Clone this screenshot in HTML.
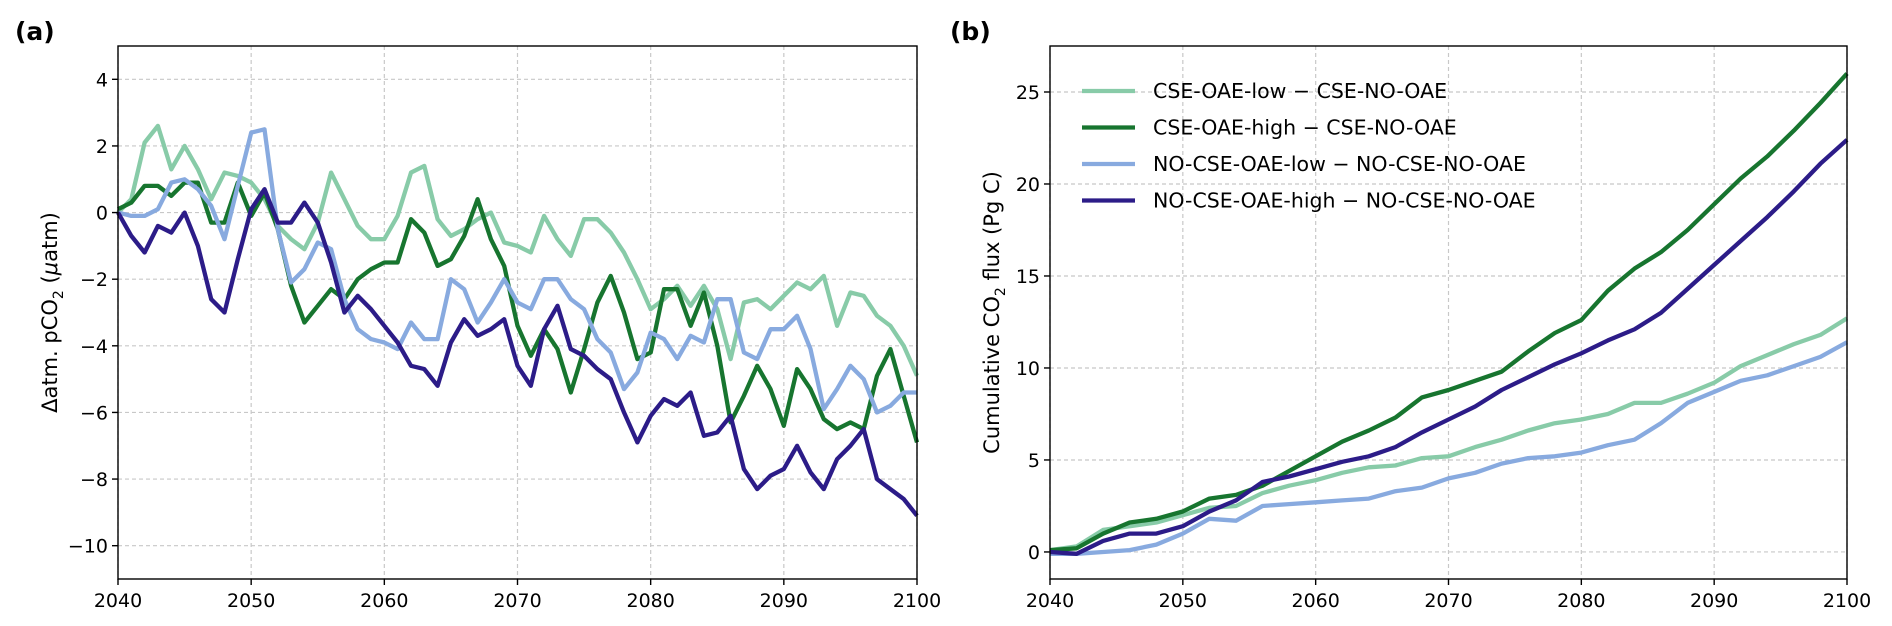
<!DOCTYPE html>
<html><head><meta charset="utf-8"><style>
body{margin:0;background:#fff;}
svg{display:block;font-family:"DejaVu Sans","Liberation Sans",sans-serif;}
</style></head><body>
<svg id="c" width="1892" height="626" viewBox="0 0 1892 626" xmlns="http://www.w3.org/2000/svg"></svg>
<script>
const years = []; for (let y = 2040; y <= 2100; y++) years.push(y);
const yearsB = []; for (let y = 2040; y <= 2100; y += 2) yearsB.push(y);
const seriesNames = ["CSE-OAE-low \u2212 CSE-NO-OAE","CSE-OAE-high \u2212 CSE-NO-OAE","NO-CSE-OAE-low \u2212 NO-CSE-NO-OAE","NO-CSE-OAE-high \u2212 NO-CSE-NO-OAE"];
const aCseLow = [0,0.4,2.1,2.6,1.3,2.0,1.3,0.4,1.2,1.1,0.9,0.4,-0.4,-0.8,-1.1,-0.3,1.2,0.4,-0.4,-0.8,-0.8,-0.1,1.2,1.4,-0.2,-0.7,-0.5,-0.2,0,-0.9,-1.0,-1.2,-0.1,-0.8,-1.3,-0.2,-0.2,-0.6,-1.2,-2.0,-2.9,-2.6,-2.2,-2.8,-2.2,-2.9,-4.4,-2.7,-2.6,-2.9,-2.5,-2.1,-2.3,-1.9,-3.4,-2.4,-2.5,-3.1,-3.4,-4.0,-4.9];
const aCseHigh = [0.1,0.3,0.8,0.8,0.5,0.9,0.9,-0.3,-0.3,0.9,-0.1,0.6,-0.5,-2.2,-3.3,-2.8,-2.3,-2.6,-2.0,-1.7,-1.5,-1.5,-0.2,-0.6,-1.6,-1.4,-0.7,0.4,-0.8,-1.6,-3.4,-4.3,-3.5,-4.1,-5.4,-4.1,-2.7,-1.9,-3.0,-4.4,-4.2,-2.3,-2.3,-3.4,-2.4,-4.0,-6.3,-5.5,-4.6,-5.3,-6.4,-4.7,-5.3,-6.2,-6.5,-6.3,-6.5,-4.9,-4.1,-5.5,-6.9];
const aNoLow = [0,-0.1,-0.1,0.1,0.9,1.0,0.7,0.2,-0.8,0.8,2.4,2.5,-0.5,-2.1,-1.7,-0.9,-1.1,-2.6,-3.5,-3.8,-3.9,-4.1,-3.3,-3.8,-3.8,-2.0,-2.3,-3.3,-2.7,-2.0,-2.7,-2.9,-2.0,-2.0,-2.6,-2.9,-3.8,-4.2,-5.3,-4.8,-3.6,-3.8,-4.4,-3.7,-3.9,-2.6,-2.6,-4.2,-4.4,-3.5,-3.5,-3.1,-4.1,-5.9,-5.3,-4.6,-5.0,-6.0,-5.8,-5.4,-5.4];
const aNoHigh = [0,-0.7,-1.2,-0.4,-0.6,0,-1.0,-2.6,-3.0,-1.4,0.1,0.7,-0.3,-0.3,0.3,-0.3,-1.5,-3.0,-2.5,-2.9,-3.4,-3.9,-4.6,-4.7,-5.2,-3.9,-3.2,-3.7,-3.5,-3.2,-4.6,-5.2,-3.5,-2.8,-4.1,-4.3,-4.7,-5.0,-6.0,-6.9,-6.1,-5.6,-5.8,-5.4,-6.7,-6.6,-6.1,-7.7,-8.3,-7.9,-7.7,-7.0,-7.8,-8.3,-7.4,-7.0,-6.5,-8.0,-8.3,-8.6,-9.1];
const bCseLow = [0.1,0.3,1.2,1.4,1.6,2.0,2.4,2.5,3.2,3.6,3.9,4.3,4.6,4.7,5.1,5.2,5.7,6.1,6.6,7.0,7.2,7.5,8.1,8.1,8.6,9.2,10.1,10.7,11.3,11.8,12.7];
const bCseHigh = [0.1,0.2,1.0,1.6,1.8,2.2,2.9,3.1,3.6,4.4,5.2,6.0,6.6,7.3,8.4,8.8,9.3,9.8,10.9,11.9,12.6,14.2,15.4,16.3,17.5,18.9,20.3,21.5,22.9,24.4,26.0];
const bNoLow = [-0.1,-0.1,0,0.1,0.4,1.0,1.8,1.7,2.5,2.6,2.7,2.8,2.9,3.3,3.5,4.0,4.3,4.8,5.1,5.2,5.4,5.8,6.1,7.0,8.1,8.7,9.3,9.6,10.1,10.6,11.4];
const bNoHigh = [0,-0.1,0.6,1.0,1.0,1.4,2.2,2.8,3.8,4.1,4.5,4.9,5.2,5.7,6.5,7.2,7.9,8.8,9.5,10.2,10.8,11.5,12.1,13.0,14.3,15.6,16.9,18.2,19.6,21.1,22.4];
const xTicks = [2040,2050,2060,2070,2080,2090,2100];
const aYTicks = [4,2,0,-2,-4,-6,-8,-10];
const bYTicks = [0,5,10,15,20,25];

const colors = ["#88cba8","#17752f","#88aadf","#2c1c88"];
const NS = "http://www.w3.org/2000/svg";
const svg = document.getElementById("c");
function mk(tag, attrs, parent){const e=document.createElementNS(NS,tag);for(const k in attrs)e.setAttribute(k,attrs[k]);(parent||svg).appendChild(e);return e;}

function panel(P){
  const g = mk("g",{});
  
  
  const sx = v => P.x0 + (v-2040)/60*(P.x1-P.x0);
  const sy = v => P.y1 - (v-P.ymin)/(P.ymax-P.ymin)*(P.y1-P.y0);
  xTicks.forEach(t=>{
    const l=mk("line",{x1:sx(t),x2:sx(t),y1:P.y0,y2:P.y1,stroke:"#c8c8c8","stroke-width":1.2,"stroke-dasharray":"4,3"},g);
    
    
  });
  P.yt.forEach(t=>{
    const l=mk("line",{x1:P.x0,x2:P.x1,y1:sy(t),y2:sy(t),stroke:"#c8c8c8","stroke-width":1.2,"stroke-dasharray":"4,3"},g);
    
    
  });
  P.series.forEach((s,i)=>{
    const d = s.map((v,j)=>(j?"L":"M")+sx(P.xs[j]).toFixed(1)+","+sy(v).toFixed(1)).join("");
    const p=mk("path",{d:d,fill:"none",stroke:colors[i],"stroke-width":4.3,"stroke-linejoin":"round"},g);
    
    
  });
  const r=mk("rect",{x:P.x0,y:P.y0,width:P.x1-P.x0,height:P.y1-P.y0,fill:"none",stroke:"#000","stroke-width":1.4},g);
  
  
  xTicks.forEach(t=>{
    mk("line",{x1:sx(t),x2:sx(t),y1:P.y1,y2:P.y1+6,stroke:"#000","stroke-width":1.4},g);
    const tx=mk("text",{x:sx(t),y:P.y1+28,"text-anchor":"middle","font-size":19},g);
    tx.textContent=t;
    
    
  });
  P.yt.forEach(t=>{
    mk("line",{x1:P.x0-6,x2:P.x0,y1:sy(t),y2:sy(t),stroke:"#000","stroke-width":1.4},g);
    const tx=mk("text",{x:P.x0-10,y:sy(t)+7,"text-anchor":"end","font-size":19},g);
    tx.textContent=t<0?"\u2212"+(-t):t;
    
    
  });
  const yl=mk("text",{transform:`translate(${P.ylx},${(P.y0+P.y1)/2}) rotate(-90)`,"text-anchor":"middle","font-size":21},g);
  yl.innerHTML=P.ylabel;
  
  
  const pl=mk("text",{x:P.lx,y:40,"font-size":25,"font-weight":"bold"},g);
  pl.textContent=P.letter;
  
  
}

panel({name:"panel-a",x0:118,x1:917,y0:46,y1:579,ymin:-11,ymax:5,yt:aYTicks,xs:years,
  series:[aCseLow,aCseHigh,aNoLow,aNoHigh],ylx:57,lx:15,letter:"(a)",
  ylabel:'\u0394atm. pCO<tspan font-size="14" dy="6">2</tspan><tspan dy="-6"> (</tspan><tspan font-style="italic">\u03bc</tspan>atm)'});
panel({name:"panel-b",x0:1050,x1:1847,y0:46,y1:579,ymin:-1.47,ymax:27.5,yt:bYTicks,xs:yearsB,
  series:[bCseLow,bCseHigh,bNoLow,bNoHigh],ylx:999,lx:950,letter:"(b)",
  ylabel:'Cumulative CO<tspan font-size="14" dy="6">2</tspan><tspan dy="-6"> flux (Pg C)</tspan>'});

const lg = mk("g",{});


seriesNames.forEach((n,i)=>{
  const y = 91 + i*36.5;
  const e = mk("g",{},lg);
  
  
  mk("line",{x1:1082,x2:1135,y1:y,y2:y,stroke:colors[i],"stroke-width":4.3},e);
  const t=mk("text",{x:1153,y:y+7,"font-size":20.5},e);
  t.textContent=n;
});
</script>
</body></html>
